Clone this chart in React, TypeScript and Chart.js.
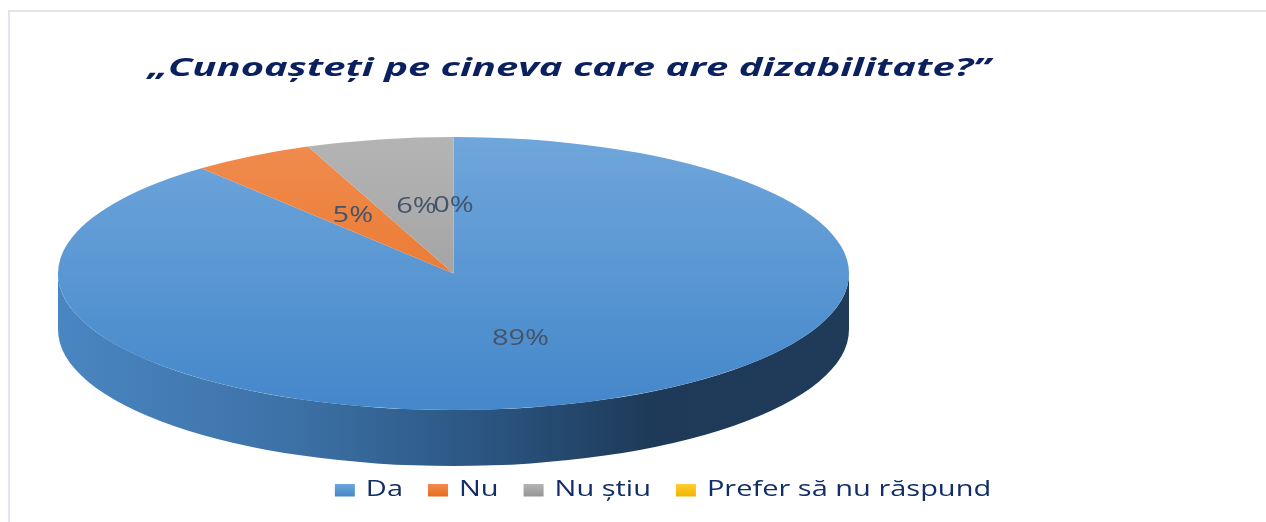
import React, { useEffect, useRef } from "react";
import { Chart, registerables } from "chart.js";

Chart.register(...registerables);

// ---- data ----
const categories = ["Da", "Nu", "Nu știu", "Prefer să nu răspund"];
const values = [89, 5, 6, 0];
const valueLabels = ["89%", "5%", "6%", "0%"];
const titleText = "„Cunoașteți pe cineva care are dizabilitate?”";

// ---- styles ----
const topColors = [
  ["#6fa6db", "#4487ca"],
  ["#f08c4f", "#e66d1c"],
  ["#b4b4b4", "#959595"],
  ["#ffcc33", "#f0b400"],
];
const sideStops: Array<Array<[number, string]>> = [
  [[0, "#4a86c2"], [0.3, "#3c71a6"], [0.55, "#2a5480"], [0.75, "#1e3a58"], [1, "#1f3b58"]],
  [[0, "#c96420"], [1, "#7a3a10"]],
  [[0, "#8a8a8a"], [1, "#555555"]],
  [[0, "#d9a300"], [1, "#8a6800"]],
];
const SX = 1.38; // horizontal stretch of labels and legend text
const TITLE_SX = 1.6; // horizontal stretch of title text
const DEPTH = 56;
const FONT = '"Open Sans", "Noto Sans", sans-serif';

function stretchedText(ctx: CanvasRenderingContext2D, text: string, x: number, y: number, center: boolean, sx = SX) {
  const w = ctx.measureText(text).width * sx;
  const left = center ? x - w / 2 : x;
  ctx.save();
  ctx.translate(left, y);
  ctx.scale(sx, 1);
  ctx.textAlign = "left";
  ctx.fillText(text, 0, 0);
  ctx.restore();
  return w;
}

const pie3d = {
  id: "pie3d",
  beforeDatasetsDraw(chart: any) {
    const ctx: CanvasRenderingContext2D = chart.ctx;
    const a = chart.chartArea;
    const meta = chart.getDatasetMeta(0);
    const cx = (a.left + a.right) / 2;
    const cy = (a.top + a.bottom) / 2;
    const rx = (a.right - a.left) / 2;
    const ry = (a.bottom - a.top) / 2;
    // side walls (front half only)
    meta.data.forEach((arc: any, i: number) => {
      const { startAngle, endAngle } = arc.getProps(["startAngle", "endAngle"], true);
      for (let k = -1; k <= 1; k++) {
        const lo = Math.max(startAngle, 2 * Math.PI * k);
        const hi = Math.min(endAngle, 2 * Math.PI * k + Math.PI);
        if (hi <= lo) continue;
        const g = ctx.createLinearGradient(cx - rx, 0, cx + rx, 0);
        sideStops[i].forEach(([o, c]) => g.addColorStop(o, c));
        ctx.save();
        ctx.beginPath();
        ctx.ellipse(cx, cy, rx, ry, 0, lo, hi, false);
        ctx.ellipse(cx, cy + DEPTH, rx, ry, 0, hi, lo, true);
        ctx.closePath();
        ctx.fillStyle = g;
        ctx.fill();
        ctx.restore();
      }
    });
    const first = meta.data[0];
    const r = first.outerRadius;
    ctx.save();
    ctx.translate(cx, cy);
    ctx.scale(rx / r, ry / r);
    ctx.translate(-first.x, -first.y);
  },
  afterDatasetsDraw(chart: any) {
    const ctx: CanvasRenderingContext2D = chart.ctx;
    ctx.restore();
    const a = chart.chartArea;
    const meta = chart.getDatasetMeta(0);
    const cx = (a.left + a.right) / 2;
    const cy = (a.top + a.bottom) / 2;
    const rx = (a.right - a.left) / 2;
    const ry = (a.bottom - a.top) / 2;
    const first = meta.data[0];
    const r = first.outerRadius;
    ctx.save();
    ctx.font = `21px ${FONT}`;
    ctx.fillStyle = "#44546a";
    ctx.textBaseline = "middle";
    meta.data.forEach((arc: any, i: number) => {
      const p = arc.tooltipPosition(true);
      const X = cx + ((p.x - first.x) * rx) / r;
      const Y = cy + ((p.y - first.y) * ry) / r;
      stretchedText(ctx, valueLabels[i], X, Y + 1, true);
    });
    ctx.restore();
  },
  afterDraw(chart: any) {
    const ctx: CanvasRenderingContext2D = chart.ctx;
    // title
    ctx.save();
    ctx.font = `italic bold 25px ${FONT}`;
    ctx.fillStyle = "#0b215f";
    ctx.textBaseline = "alphabetic";
    stretchedText(ctx, titleText, 148, 76, false, TITLE_SX);
    ctx.restore();
    // legend
    ctx.save();
    ctx.font = `21px ${FONT}`;
    ctx.textBaseline = "alphabetic";
    const boxW = 20, boxH = 12.5, boxGap = 11, itemGap = 25;
    const widths = categories.map((c) => ctx.measureText(c).width * SX);
    const total = widths.reduce((s, w) => s + boxW + boxGap + w, 0) + itemGap * (categories.length - 1);
    let x = 663 - total / 2;
    categories.forEach((c, i) => {
      const g = ctx.createLinearGradient(0, 484, 0, 484 + boxH);
      g.addColorStop(0, topColors[i][0]);
      g.addColorStop(1, topColors[i][1]);
      ctx.fillStyle = g;
      ctx.fillRect(x, 484, boxW, boxH);
      x += boxW + boxGap;
      ctx.fillStyle = "#112e66";
      stretchedText(ctx, c, x, 496, false);
      x += widths[i] + itemGap;
    });
    ctx.restore();
  },
};

export default function App() {
  const ref = useRef<HTMLCanvasElement>(null);
  useEffect(() => {
    if (!ref.current) return;
    const chart = new Chart(ref.current, {
      type: "pie",
      data: {
        labels: categories,
        datasets: [
          {
            data: values,
            borderWidth: 0,
            backgroundColor: (c: any) => {
              const a = c.chart.chartArea;
              const i = c.dataIndex;
              if (!a || i === undefined) return topColors[i ?? 0][0];
              const g = c.chart.ctx.createLinearGradient(0, a.top, 0, a.bottom);
              g.addColorStop(0, topColors[i][0]);
              g.addColorStop(1, topColors[i][1]);
              return g;
            },
          },
        ],
      },
      options: {
        responsive: false,
        animation: false,
        devicePixelRatio: 1,
        layout: { padding: { left: 58, right: 417, top: 137, bottom: 112 } },
        plugins: {
          legend: { display: false },
          title: { display: false },
          tooltip: { enabled: false },
        },
      },
      plugins: [pie3d],
    } as any);
    return () => chart.destroy();
  }, []);
  return (
    <div style={{ position: "fixed", left: 0, top: 0, width: 1266, height: 522, overflow: "hidden", background: "#fff" }}>
      <div
        style={{
          position: "absolute",
          left: 8,
          top: 10,
          width: 1258,
          height: 512,
          borderTop: "2px solid #e0e6ec",
          borderLeft: "2px solid #e0e6ec",
        }}
      />
      <canvas ref={ref} width={1266} height={522} style={{ position: "absolute", left: 0, top: 0 }} />
    </div>
  );
}
